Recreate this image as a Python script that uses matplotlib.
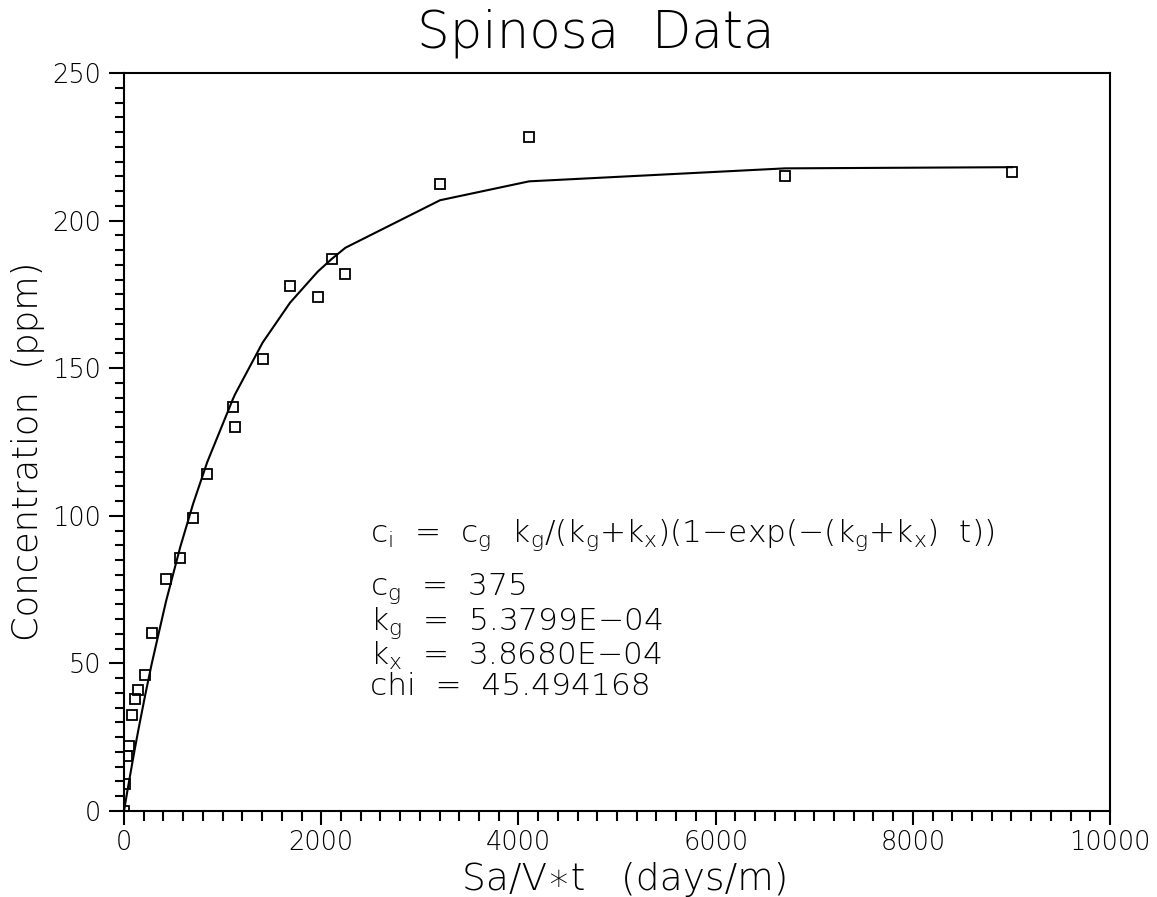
import matplotlib
matplotlib.use("Agg")
import matplotlib.pyplot as plt
from matplotlib.ticker import MultipleLocator

# observed concentrations
x_obs = [0, 10, 34, 54, 85, 112, 145, 213, 281, 425, 570, 700, 844, 1105, 1125,
         1406, 1684, 1964, 2106, 2245, 3205, 4108, 6704, 9006]
y_obs = [0, 9.1, 18.5, 22.1, 32.6, 37.8, 41.0, 46.0, 60.4, 78.6, 85.7, 99.3, 114.0,
         137.0, 130.0, 153.0, 178.0, 174.0, 187.0, 182.0, 212.4, 228.3, 215.0, 216.5]

# fitted curve at the same times
y_fit = [0, 2.0, 6.8, 10.6, 16.5, 21.5, 27.4, 39.0, 49.9, 70.9, 89.4, 104.0, 118.2,
         139.6, 141.1, 158.7, 172.2, 182.7, 187.0, 190.8, 206.9, 213.3, 217.7, 218.1]

model_eq = "c$_i$  =  c$_g$  k$_g$/(k$_g$+k$_x$)(1\u2212exp(\u2212(k$_g$+k$_x$)  t))"
fit_params = [
    "c$_g$  =  375",
    "k$_g$  =  5.3799E\u221204",
    "k$_x$  =  3.8680E\u221204",
    "chi  =  45.494168",
]

plt.rcParams['font.family'] = 'DejaVu Sans'
plt.rcParams['font.weight'] = 'light'
plt.rcParams['mathtext.default'] = 'regular'

fig = plt.figure(figsize=(11.57, 8.97), dpi=100)
ax = fig.add_axes([0.1072, 0.0959, 0.8522, 0.8227])

ax.plot(x_obs, y_fit, color='black', lw=1.5)
ax.plot(x_obs, y_obs, ls='none', marker='s', ms=6.5, mfc='none', mec='black', mew=1.3)

ax.text(2490, 91.0, model_eq, fontsize=22.5, va='baseline', ha='left')
ax.text(2490, 39.4, "\n".join(fit_params), fontsize=22.5, va='baseline', ha='left',
        linespacing=0.97)

ax.set_xlim(0, 10000)
ax.set_ylim(0, 250)
ax.xaxis.set_major_locator(MultipleLocator(2000))
ax.xaxis.set_minor_locator(MultipleLocator(200))
ax.yaxis.set_major_locator(MultipleLocator(50))
ax.yaxis.set_minor_locator(MultipleLocator(5))
ax.tick_params(which='both', direction='out', width=1.5, top=False, right=False,
               labelsize=18.5)
ax.tick_params(axis='y', which='major', length=11, pad=5.5)
ax.tick_params(axis='y', which='minor', length=6.5)
ax.tick_params(axis='x', which='major', length=10, pad=4)
ax.tick_params(axis='x', which='minor', length=7)
for s in ax.spines.values():
    s.set_linewidth(1.5)

fig.text(0.515, 0.9476, "Spinosa  Data", fontsize=37, ha='center', va='baseline')
fig.text(0.540, 0.008, "Sa/V\u2217t   (days/m)", fontsize=27, ha='center', va='baseline')
fig.text(0.024, 0.497, "Concentration  (ppm)", fontsize=25.5, rotation=90,
         ha='center', va='center')

fig.savefig('out.png', dpi=100)
